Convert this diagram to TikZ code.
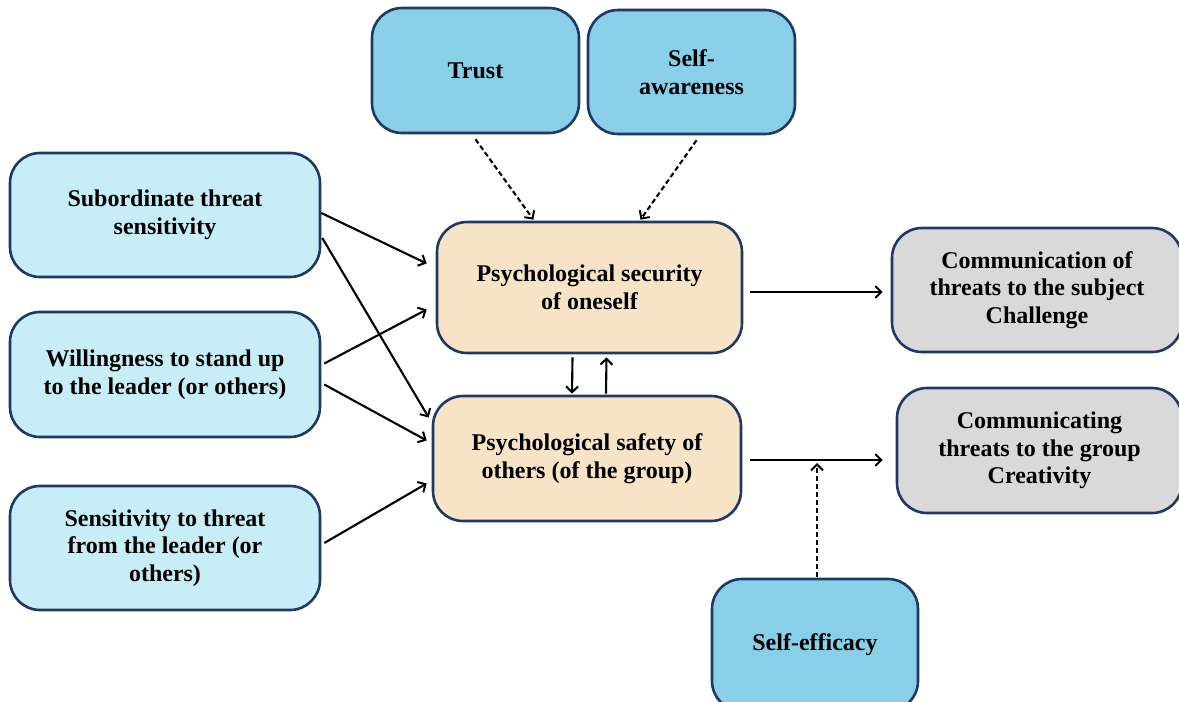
\documentclass[tikz,border=0pt]{standalone}
\usepackage{fontspec}
\setmainfont{Liberation Serif}
\usetikzlibrary{arrows.meta,calc}
\definecolor{bordc}{HTML}{1F3864}
\definecolor{topc}{HTML}{89CFE7}
\definecolor{leftc}{HTML}{C7EEF7}
\definecolor{midc}{HTML}{F7E3C6}
\definecolor{rightc}{HTML}{D9D9D9}
\tikzset{
  box/.style={draw=bordc, line width=2.6pt, rounded corners=30pt, align=center,
    font=\fontsize{24}{27.5}\selectfont\bfseries, text=black, inner sep=2pt},
  topbox/.style={box, fill=topc},
  leftbox/.style={box, fill=leftc},
  midbox/.style={box, fill=midc},
  rightbox/.style={box, fill=rightc},
  arr/.style={line width=2.1pt, -{Straight Barb[length=6pt,width=12pt,line width=2pt]}},
  darr/.style={arr, dash pattern=on 5pt off 3pt}
}
\begin{document}
\begin{tikzpicture}[x=1pt,y=-1pt]
\useasboundingbox (0,0) rectangle (1179,702);
\clip (0,0) rectangle (1179,702);
\node[topbox, minimum width=207pt, minimum height=125pt] (trust) at (475.5,70.5) {Trust};
\node[topbox, minimum width=207pt, minimum height=124pt] (aware) at (691.5,72) {Self-\\awareness};
\node[leftbox, minimum width=310pt, minimum height=124pt] (sub) at (165,215) {Subordinate threat\\sensitivity};
\node[leftbox, minimum width=310pt, minimum height=125pt] (will) at (165,374.5) {Willingness to stand up\\to the leader (or others)};
\node[leftbox, minimum width=310pt, minimum height=124pt] (sens) at (165,548) {Sensitivity to threat\\from the leader (or\\others)};
\node[midbox, minimum width=305pt, minimum height=131pt] (sec) at (589.5,287.5) {Psychological security\\of oneself};
\node[midbox, minimum width=308pt, minimum height=125pt] (safe) at (587,458.5) {Psychological safety of\\others (of the group)};
\node[rightbox, minimum width=290pt, minimum height=124pt] (comm) at (1037,290) {Communication of\\threats to the subject\\Challenge};
\node[rightbox, minimum width=285pt, minimum height=125pt] (commg) at (1039.5,450.5) {Communicating\\threats to the group\\Creativity};
\node[topbox, minimum width=206pt, minimum height=132pt] (eff) at (815,645) {Self-efficacy};

\coordinate (effmeet) at (817,463);

\draw[darr] ([xshift=0pt,yshift=-5pt]trust.south) -- ([xshift=-56pt,yshift=1pt]sec.north);
\draw[darr] ([xshift=5pt,yshift=-5pt]aware.south) -- ([xshift=51pt,yshift=1pt]sec.north);

\draw[arr] ([yshift=2pt]sub.east) -- ([xshift=-9pt,yshift=24pt]sec.west);
\draw[arr] ([xshift=1pt,yshift=-23pt]sub.east) -- ([xshift=-3pt,yshift=41pt]safe.west);
\draw[arr] ([xshift=3pt,yshift=11pt]will.east) -- ([xshift=-9pt,yshift=-22pt]sec.west);
\draw[arr] ([xshift=3pt,yshift=-10pt]will.east) -- ([xshift=-5pt,yshift=18pt]safe.west);
\draw[arr] ([xshift=3pt,yshift=5pt]sens.east) -- ([xshift=-5pt,yshift=-25pt]safe.west);

\draw[arr] ([xshift=-17pt,yshift=-3pt]sec.south) -- ([xshift=-15pt,yshift=1pt]safe.north);
\draw[arr] ([xshift=19pt,yshift=1pt]safe.north) -- ([xshift=17pt,yshift=-3pt]sec.south);

\draw[arr] ([xshift=7pt,yshift=-4.5pt]sec.east) -- ([xshift=-8pt,yshift=-2pt]comm.west);
\draw[arr] ([xshift=8pt,yshift=-1.5pt]safe.east) -- ([xshift=-13pt,yshift=-9.5pt]commg.west);
\draw[darr] ([xshift=2pt,yshift=1pt]eff.north) -- (effmeet);
\end{tikzpicture}
\end{document}
